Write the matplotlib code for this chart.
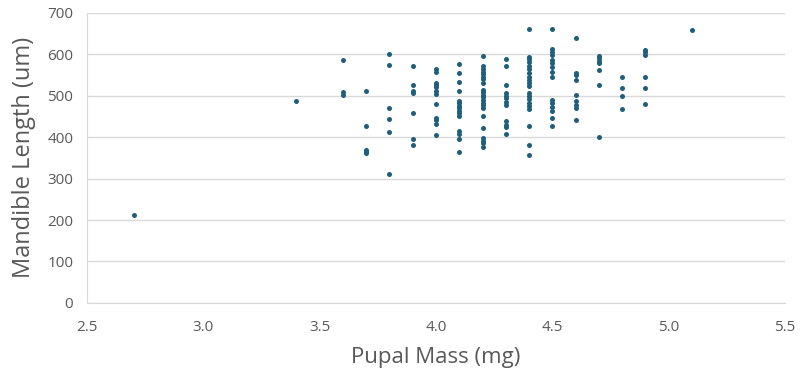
import matplotlib.pyplot as plt

# Pupal mass (mg) and mandible length (um)
mass_groups = [2.7, 3.4, 3.6, 3.7, 3.8, 3.9, 4.0, 4.1, 4.2, 4.3, 4.4, 4.5, 4.6, 4.7, 4.8, 4.9, 5.1]
mandible_2_7 = [212]
mandible_3_4 = [487]
mandible_3_6 = [586, 508, 502]
mandible_3_7 = [512, 428, 370, 365, 361]
mandible_3_8 = [600, 574, 470, 444, 413, 311]
mandible_3_9 = [573, 526, 512, 506, 458, 396, 380]
mandible_4_0 = [565, 558, 532, 525, 520, 512, 505, 480, 447, 441, 433, 405]
mandible_4_1 = [576, 554, 534, 512, 487, 482, 476, 470, 463, 458, 451, 415, 407, 395, 364]
mandible_4_2 = [596, 571, 564, 558, 552, 546, 540, 532, 514, 508, 502, 496, 490, 483, 478, 471,
                451, 422, 398, 391, 385, 377]
mandible_4_3 = [588, 571, 526, 506, 500, 494, 486, 478, 438, 430, 424, 407]
mandible_4_4 = [661, 594, 588, 581, 572, 564, 556, 546, 538, 530, 524, 506, 500, 493, 483, 475,
                468, 426, 381, 357]
mandible_4_5 = [661, 612, 605, 599, 586, 578, 570, 558, 546, 490, 482, 473, 464, 447, 427]
mandible_4_6 = [639, 556, 549, 537, 503, 488, 477, 470, 442]
mandible_4_7 = [596, 590, 585, 578, 561, 525, 400]
mandible_4_8 = [545, 518, 500, 467]
mandible_4_9 = [611, 605, 598, 545, 518, 480]
mandible_5_1 = [658]

groups = [mandible_2_7, mandible_3_4, mandible_3_6, mandible_3_7, mandible_3_8, mandible_3_9,
          mandible_4_0, mandible_4_1, mandible_4_2, mandible_4_3, mandible_4_4, mandible_4_5,
          mandible_4_6, mandible_4_7, mandible_4_8, mandible_4_9, mandible_5_1]

xs = []
ys = []
for m, vals in zip(mass_groups, groups):
    for v in vals:
        xs.append(m)
        ys.append(v)

plt.rcParams['font.family'] = ['Open Sans', 'DejaVu Sans']

fig = plt.figure(figsize=(8, 3.8), dpi=100)
ax = fig.add_axes([0.109, 0.203, 0.872, 0.763])

ax.scatter(xs, ys, s=13, color='#1f5f7b', zorder=3, linewidths=0)

ax.set_xlim(2.5, 5.5)
ax.set_ylim(0, 700)
ax.set_xticks([2.5, 3.0, 3.5, 4.0, 4.5, 5.0, 5.5])
ax.set_xticklabels(['2.5', '3.0', '3.5', '4.0', '4.5', '5.0', '5.5'])
ax.set_yticks(range(0, 701, 100))

ax.grid(axis='y', color='#d9d9d9', linewidth=1)
ax.set_axisbelow(True)
for side in ['top', 'right']:
    ax.spines[side].set_visible(False)
ax.spines['left'].set_color('#d9d9d9')
ax.spines['bottom'].set_color('#d9d9d9')
ax.tick_params(length=0, colors='#595959', labelsize=11)
ax.tick_params(axis='x', pad=12)
ax.tick_params(axis='y', pad=10)

ax.set_xlabel('Pupal Mass (mg)', fontsize=16, color='#595959', labelpad=9)
ax.set_ylabel('Mandible Length (um)', fontsize=17, color='#595959', labelpad=8)

fig.savefig('out.png', dpi=100)
